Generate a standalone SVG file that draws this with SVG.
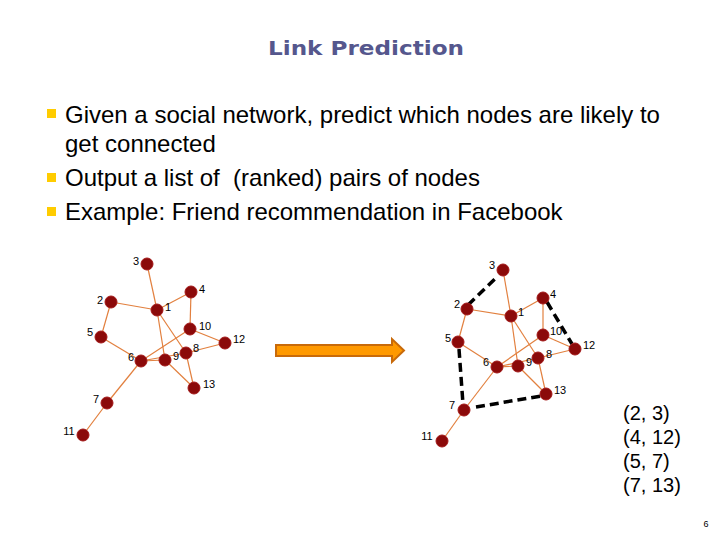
<svg xmlns="http://www.w3.org/2000/svg" width="720" height="540" viewBox="0 0 720 540">
<style>
.title{font-family:"DejaVu Sans","Liberation Sans",sans-serif;font-weight:bold;font-size:20px;fill:#55578d}
.body{font-family:"Liberation Sans",Arial,sans-serif;font-size:24px;fill:#000}
.pair{font-family:"Liberation Sans",Arial,sans-serif;font-size:20px;fill:#000}
.lbl{font-family:"Liberation Sans",Arial,sans-serif;font-size:11px;fill:#000}
.bul{fill:#ffcc00}
.e{stroke:#e2803f;stroke-width:1.2;fill:none}
.d{stroke:#000;stroke-width:3.5;stroke-dasharray:9 5;fill:none}
.n{fill:#8b0a0a;stroke:#a31818;stroke-width:1}
</style>
<rect width="720" height="540" fill="#fff"/>
<text class="title" x="366" y="55" text-anchor="middle" textLength="196" lengthAdjust="spacingAndGlyphs">Link Prediction</text>
<g id="bullets">
<rect class="bul" x="47" y="109" width="9" height="9"/>
<rect class="bul" x="47" y="173" width="9" height="9"/>
<rect class="bul" x="47" y="207" width="9" height="9"/>
<text class="body" x="65" y="123">Given a social network, predict which nodes are likely to</text>
<text class="body" x="65" y="152">get connected</text>
<text class="body" x="65" y="186" xml:space="preserve">Output a list of  (ranked) pairs of nodes</text>
<text class="body" x="65" y="220">Example: Friend recommendation in Facebook</text>
</g>
<g id="left-connectors">
<line class="e" x1="147" y1="264" x2="157" y2="310"/>
<line class="e" x1="111" y1="302" x2="157" y2="310"/>
<line class="e" x1="157" y1="310" x2="191" y2="292"/>
<line class="e" x1="191" y1="292" x2="190" y2="329"/>
<line class="e" x1="111" y1="302" x2="101" y2="337"/>
<line class="e" x1="101" y1="337" x2="141" y2="361"/>
<line class="e" x1="157" y1="310" x2="165" y2="360"/>
<line class="e" x1="157" y1="310" x2="186" y2="353"/>
<line class="e" x1="190" y1="329" x2="225" y2="343"/>
<line class="e" x1="190" y1="329" x2="141" y2="361"/>
<line class="e" x1="225" y1="343" x2="186" y2="353"/>
<line class="e" x1="141" y1="361" x2="165" y2="360"/>
<line class="e" x1="141" y1="361" x2="186" y2="353"/>
<line class="e" x1="165" y1="360" x2="194" y2="388"/>
<line class="e" x1="186" y1="353" x2="194" y2="388"/>
<line class="e" x1="141" y1="361" x2="107" y2="403"/>
<line class="e" x1="107" y1="403" x2="83" y2="435"/>
</g>
<g id="left-nodes">
<g id="L3"><circle class="n" cx="147" cy="264" r="6"/><text class="lbl" x="136" y="265" text-anchor="middle">3</text></g>
<g id="L4"><circle class="n" cx="191" cy="292" r="6"/><text class="lbl" x="202" y="293" text-anchor="middle">4</text></g>
<g id="L1"><circle class="n" cx="157" cy="310" r="6"/><text class="lbl" x="168" y="311" text-anchor="middle">1</text></g>
<g id="L2"><circle class="n" cx="111" cy="302" r="6"/><text class="lbl" x="100" y="304" text-anchor="middle">2</text></g>
<g id="L5"><circle class="n" cx="101" cy="337" r="6"/><text class="lbl" x="90" y="336" text-anchor="middle">5</text></g>
<g id="L10"><circle class="n" cx="190" cy="329" r="6"/><text class="lbl" x="205" y="330" text-anchor="middle">10</text></g>
<g id="L12"><circle class="n" cx="225" cy="343" r="6"/><text class="lbl" x="239" y="343" text-anchor="middle">12</text></g>
<g id="L8"><circle class="n" cx="186" cy="353" r="6"/><text class="lbl" x="196" y="352" text-anchor="middle">8</text></g>
<g id="L9"><circle class="n" cx="165" cy="360" r="6"/><text class="lbl" x="176" y="360" text-anchor="middle">9</text></g>
<g id="L6"><circle class="n" cx="141" cy="361" r="6"/><text class="lbl" x="131" y="361" text-anchor="middle">6</text></g>
<g id="L13"><circle class="n" cx="194" cy="388" r="6"/><text class="lbl" x="209" y="388" text-anchor="middle">13</text></g>
<g id="L7"><circle class="n" cx="107" cy="403" r="6"/><text class="lbl" x="96" y="403" text-anchor="middle">7</text></g>
<g id="L11"><circle class="n" cx="83" cy="435" r="6"/><text class="lbl" x="69" y="435" text-anchor="middle">11</text></g>
</g>
<g id="arrow">
<path d="M276,345 H392 V339 L404,350.5 L392,362 V356 H276 Z" fill="#ff9900" stroke="#c86a0a" stroke-width="2" stroke-linejoin="miter"/>
</g>
<g id="right-connectors">
<line class="e" x1="503" y1="270" x2="511" y2="316"/>
<line class="e" x1="467" y1="309" x2="511" y2="316"/>
<line class="e" x1="511" y1="316" x2="543" y2="298"/>
<line class="e" x1="543" y1="298" x2="543" y2="335"/>
<line class="e" x1="467" y1="309" x2="458" y2="342"/>
<line class="e" x1="458" y1="342" x2="497" y2="367"/>
<line class="e" x1="511" y1="316" x2="518" y2="366"/>
<line class="e" x1="511" y1="316" x2="538" y2="358"/>
<line class="e" x1="543" y1="335" x2="575" y2="349"/>
<line class="e" x1="543" y1="335" x2="497" y2="367"/>
<line class="e" x1="575" y1="349" x2="538" y2="358"/>
<line class="e" x1="497" y1="367" x2="518" y2="366"/>
<line class="e" x1="497" y1="367" x2="538" y2="358"/>
<line class="e" x1="518" y1="366" x2="546" y2="394"/>
<line class="e" x1="538" y1="358" x2="546" y2="394"/>
<line class="e" x1="497" y1="367" x2="464" y2="410"/>
<line class="e" x1="464" y1="410" x2="442" y2="441"/>
<line class="d" x1="468" y1="305" x2="498" y2="276"/>
<line class="d" x1="547" y1="302" x2="572" y2="344"/>
<line class="d" x1="459" y1="349" x2="463" y2="404"/>
<line class="d" x1="476" y1="407" x2="541" y2="396"/>
</g>
<g id="right-nodes">
<g id="R3"><circle class="n" cx="503" cy="270" r="6"/><text class="lbl" x="492" y="269" text-anchor="middle">3</text></g>
<g id="R4"><circle class="n" cx="543" cy="298" r="6"/><text class="lbl" x="553" y="298" text-anchor="middle">4</text></g>
<g id="R1"><circle class="n" cx="511" cy="316" r="6"/><text class="lbl" x="521" y="316" text-anchor="middle">1</text></g>
<g id="R2"><circle class="n" cx="467" cy="309" r="6"/><text class="lbl" x="457" y="308" text-anchor="middle">2</text></g>
<g id="R5"><circle class="n" cx="458" cy="342" r="6"/><text class="lbl" x="448" y="342" text-anchor="middle">5</text></g>
<g id="R10"><circle class="n" cx="543" cy="335" r="6"/><text class="lbl" x="556" y="335" text-anchor="middle">10</text></g>
<g id="R12"><circle class="n" cx="575" cy="349" r="6"/><text class="lbl" x="589" y="349" text-anchor="middle">12</text></g>
<g id="R8"><circle class="n" cx="538" cy="358" r="6"/><text class="lbl" x="549" y="358" text-anchor="middle">8</text></g>
<g id="R9"><circle class="n" cx="518" cy="366" r="6"/><text class="lbl" x="529" y="366" text-anchor="middle">9</text></g>
<g id="R6"><circle class="n" cx="497" cy="367" r="6"/><text class="lbl" x="486" y="366" text-anchor="middle">6</text></g>
<g id="R13"><circle class="n" cx="546" cy="394" r="6"/><text class="lbl" x="560" y="394" text-anchor="middle">13</text></g>
<g id="R7"><circle class="n" cx="464" cy="410" r="6"/><text class="lbl" x="452" y="409" text-anchor="middle">7</text></g>
<g id="R11"><circle class="n" cx="442" cy="441" r="6"/><text class="lbl" x="427" y="440" text-anchor="middle">11</text></g>
</g>
<g id="pairs">
<text class="pair" x="623" y="420">(2, 3)</text>
<text class="pair" x="623" y="444">(4, 12)</text>
<text class="pair" x="623" y="468">(5, 7)</text>
<text class="pair" x="623" y="492">(7, 13)</text>
</g>
<text class="lbl" x="706" y="527" text-anchor="middle" style="font-size:9px">6</text>
</svg>
